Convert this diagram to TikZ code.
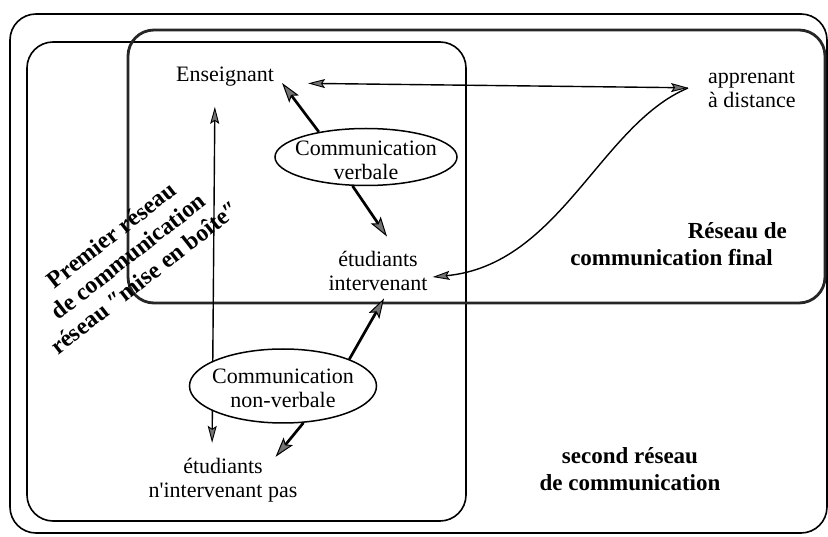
\documentclass[tikz,border=0pt]{standalone}
\usepackage{fontspec}
\setmainfont{Liberation Serif}
\usetikzlibrary{arrows.meta,shapes.geometric}
\tikzset{
  boxline/.style={draw=black, line width=1.6pt, rounded corners=26pt},
  finalbox/.style={draw=black!85, line width=2.8pt, rounded corners=26pt},
  lbl/.style={font=\fontsize{22}{24}\selectfont, align=center, inner sep=2pt},
  blbl/.style={font=\bfseries\fontsize{23}{27}\selectfont, align=center, inner sep=2pt},
  bubble/.style={ellipse, draw, line width=1.5pt, fill=white, inner sep=0pt},
  thickarr/.style={line width=2.7pt, -{Stealth[length=20pt,width=12pt,inset=4pt,fill=black!55,line width=1pt]}},
  thinarr/.style={line width=1.4pt, -{Stealth[length=17pt,width=9pt,inset=3pt,fill=black!55,line width=0.9pt]}},
  thinboth/.style={line width=1.4pt, {Stealth[length=17pt,width=9pt,inset=3pt,fill=black!55,line width=0.9pt]}-{Stealth[length=17pt,width=9pt,inset=3pt,fill=black!55,line width=0.9pt]}},
}
\begin{document}
\begin{tikzpicture}[x=1pt,y=-1pt]
\fill[white] (0,0) rectangle (828,537);
\useasboundingbox (0,0) rectangle (828,537);

% boxes
\draw[boxline] (10,14) rectangle (827,533);
\draw[boxline] (27,42) rectangle (466,521);
\draw[finalbox] (128,30) rectangle (825,303);

% text nodes
\node[lbl] (ens) at (225,77) {Enseignant};
\node[lbl, align=left, anchor=west] (appr) at (706,89) {apprenant\\à distance};
\node[lbl] (int) at (378,271) {étudiants\\intervenant};
\node[lbl] (nonint) at (223,480) {étudiants\\n\textquotesingle intervenant pas};

% thin connectors
\draw[thinboth, shorten <=18pt, shorten >=13pt] ([xshift=-10pt]ens.south) -- ([xshift=-11pt]nonint.north);
\draw[thinboth, shorten <=32pt, shorten >=18pt] ([yshift=-6pt]ens.east) -- ([yshift=1pt]appr.west);
\draw[thinarr] ([xshift=-18pt,yshift=1pt]appr.west) .. controls (600,125) and (560,265) .. ([xshift=3pt,yshift=-6pt]int.east);

% bubbles
\node[bubble, minimum width=182pt, minimum height=57pt] (verbal) at (366,157) {};
\node[bubble, minimum width=187pt, minimum height=74pt] (nonverbal) at (283,386) {};

% thick connectors
\draw[thickarr] (verbal.152) -- ([xshift=6pt,yshift=-6pt]ens.east);
\draw[thickarr] (verbal.245) -- ([xshift=9pt,yshift=12.5pt]int.north);
\draw[thickarr] (nonverbal.22) -- ([xshift=6pt,yshift=-5.5pt]int.south);
\draw[thickarr] (nonverbal.-61) -- ([xshift=-24pt,yshift=-1pt]nonint.north east);

% bubble texts
\node[lbl] (verbaltxt) at (366,160) {Communication\\verbale};
\node[lbl] (nonverbaltxt) at (283,388) {Communication\\non-verbale};

% bold labels
\node[blbl, align=right, anchor=east] (final) at (789,244) {Réseau de\\communication final\hspace*{14pt}};
\node[blbl] (second) at (630,469) {second réseau\\de communication};
\node[blbl, rotate=38, font=\bfseries\fontsize{24}{27}\selectfont] (premier) at (128,256) {Premier réseau\\de communication\\réseau ″mise en boîte″};
\end{tikzpicture}
\end{document}
